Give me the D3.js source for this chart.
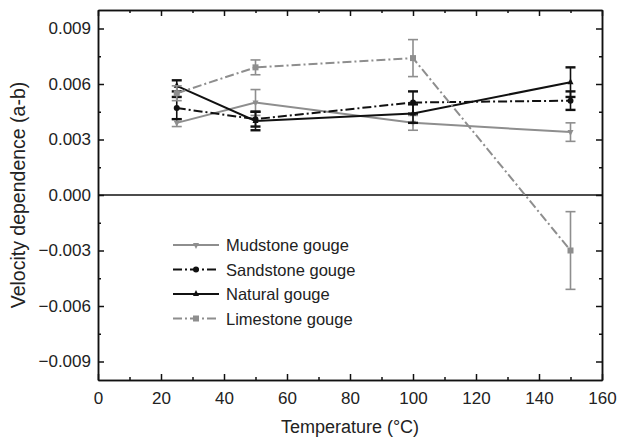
<!DOCTYPE html>
<meta charset="utf-8">
<script src="https://d3js.org/d3.v7.min.js"></script>
<style>
  body { margin: 0; background: #fff; }
  text { font-family: "Liberation Sans", Arial, sans-serif; }
</style>
<div id="my_dataviz"></div>
<script>
    // data
    var temps = [25, 50, 100, 150];

    var mudstone = [0.0039, 0.0050, 0.0039, 0.0034];
    var mudstoneErr = [0.0002, 0.0007, 0.0004, 0.0005];

    var sandstone = [0.0047, 0.0041, 0.0050, 0.0051];
    var sandstoneErr = [0.0006, 0.0004, 0.0006, 0.0005];

    var natural = [0.0059, 0.0040, 0.0044, 0.0061];
    var naturalErr = [0.0003, 0.0005, 0.0005, 0.0008];

    var limestone = [0.0055, 0.0069, 0.0074, -0.0030];
    var limestoneErr = [0.0004, 0.0004, 0.0010, 0.0021];

    var yTicks = [-0.009, -0.006, -0.003, 0, 0.003, 0.006, 0.009];
    var xTicks = [0, 20, 40, 60, 80, 100, 120, 140, 160];

    var margin = {top: 10, right: 16, bottom: 58, left: 98},
        width = 618 - margin.left - margin.right,
        height = 438 - margin.top - margin.bottom;

    var svg = d3.select("#my_dataviz")
        .append("svg")
        .attr("width", 618)
        .attr("height", 438)
        .append("g")
        .attr("transform", "translate(" + margin.left + "," + margin.top + ")");

    var x = d3.scaleLinear().domain([0, 160]).range([0, width]);
    var y = d3.scaleLinear().domain([-0.010, 0.010]).range([height, 0]);

    var gray = "#8e8e8e", black = "#111";

    var series = [
        {name: "Mudstone gouge", vals: mudstone, err: mudstoneErr, color: gray, dash: null, marker: "down"},
        {name: "Sandstone gouge", vals: sandstone, err: sandstoneErr, color: black, dash: "9,3,2,3", marker: "circle"},
        {name: "Natural gouge", vals: natural, err: naturalErr, color: black, dash: null, marker: "up"},
        {name: "Limestone gouge", vals: limestone, err: limestoneErr, color: gray, dash: "9,3,2,3", marker: "square"}
    ];

    // zero line
    svg.append("line")
        .attr("x1", 0).attr("x2", width)
        .attr("y1", y(0)).attr("y2", y(0))
        .attr("stroke", black).attr("stroke-width", 1.5);

    // axes, ticks inside, mirrored
    function styleAxis(g) {
        g.select(".domain").attr("stroke", black).attr("stroke-width", 1.5);
        g.selectAll(".tick line").attr("stroke", black).attr("stroke-width", 1.5);
        g.selectAll("text").attr("font-size", 17).attr("fill", "#222");
    }

    var xMinor = d3.range(10, 160, 20);
    var yMinor = d3.range(-0.0075, 0.0076, 0.003);

    svg.append("g")
        .attr("transform", "translate(0," + height + ")")
        .call(d3.axisBottom(x).tickValues(xTicks).tickSizeInner(-6).tickSizeOuter(0).tickPadding(12))
        .call(styleAxis);
    svg.append("g")
        .attr("transform", "translate(0," + height + ")")
        .call(d3.axisBottom(x).tickValues(xMinor).tickSizeInner(-3).tickSizeOuter(0).tickFormat(""))
        .call(styleAxis);
    svg.append("g")
        .call(d3.axisTop(x).tickValues(xTicks).tickSizeInner(-6).tickSizeOuter(0).tickFormat(""))
        .call(styleAxis);
    svg.append("g")
        .call(d3.axisTop(x).tickValues(xMinor).tickSizeInner(-3).tickSizeOuter(0).tickFormat(""))
        .call(styleAxis);

    svg.append("g")
        .call(d3.axisLeft(y).tickValues(yTicks).tickSizeInner(-6).tickSizeOuter(0).tickPadding(7).tickFormat(d3.format(".3f")))
        .call(styleAxis);
    svg.append("g")
        .call(d3.axisLeft(y).tickValues(yMinor).tickSizeInner(-3).tickSizeOuter(0).tickFormat(""))
        .call(styleAxis);
    svg.append("g")
        .attr("transform", "translate(" + width + ",0)")
        .call(d3.axisRight(y).tickValues(yTicks).tickSizeInner(-6).tickSizeOuter(0).tickFormat(""))
        .call(styleAxis);
    svg.append("g")
        .attr("transform", "translate(" + width + ",0)")
        .call(d3.axisRight(y).tickValues(yMinor).tickSizeInner(-3).tickSizeOuter(0).tickFormat(""))
        .call(styleAxis);

    // axis titles
    svg.append("text")
        .attr("x", width / 2).attr("y", height + 53)
        .attr("text-anchor", "middle")
        .attr("font-size", 18).attr("fill", "#222")
        .text("Temperature (\u00B0C)");
    svg.append("text")
        .attr("transform", "rotate(-90)")
        .attr("x", -height / 2).attr("y", -73)
        .attr("text-anchor", "middle")
        .attr("font-size", 19.5).attr("fill", "#222")
        .text("Velocity dependence (a-b)");

    function marker(g, type, cx, cy, color) {
        var s = 3;
        if (type === "circle") {
            g.append("circle").attr("cx", cx).attr("cy", cy).attr("r", s).attr("fill", color);
        } else if (type === "square") {
            g.append("rect").attr("x", cx - s).attr("y", cy - s).attr("width", 2 * s).attr("height", 2 * s).attr("fill", color);
        } else if (type === "up") {
            g.append("path").attr("d", "M" + cx + "," + (cy - s - 1) + "L" + (cx + s) + "," + (cy + s - 1) + "L" + (cx - s) + "," + (cy + s - 1) + "Z").attr("fill", color);
        } else {
            g.append("path").attr("d", "M" + cx + "," + (cy + s + 1) + "L" + (cx + s) + "," + (cy - s + 1) + "L" + (cx - s) + "," + (cy - s + 1) + "Z").attr("fill", color);
        }
    }

    var line = d3.line()
        .x(function(d) { return x(d[0]); })
        .y(function(d) { return y(d[1]); });

    series.forEach(function(s) {
        var g = svg.append("g");
        var pts = temps.map(function(t, i) { return [t, s.vals[i]]; });
        g.append("path")
            .datum(pts)
            .attr("d", line)
            .attr("fill", "none")
            .attr("stroke", s.color)
            .attr("stroke-width", 2)
            .attr("stroke-dasharray", s.dash);
        temps.forEach(function(t, i) {
            var cx = x(t), y1 = y(s.vals[i] + s.err[i]), y2 = y(s.vals[i] - s.err[i]);
            var cw = s.color === black ? 2.4 : 1.6;
            g.append("line").attr("x1", cx).attr("x2", cx).attr("y1", y1).attr("y2", y2)
                .attr("stroke", s.color).attr("stroke-width", 1.6);
            [y1, y2].forEach(function(yy) {
                g.append("line").attr("x1", cx - 5).attr("x2", cx + 5).attr("y1", yy).attr("y2", yy)
                    .attr("stroke", s.color).attr("stroke-width", cw);
            });
            marker(g, s.marker, cx, y(s.vals[i]), s.color);
        });
    });

    // legend
    var legend = svg.append("g").attr("transform", "translate(75,235)");
    series.forEach(function(s, i) {
        var row = legend.append("g").attr("transform", "translate(0," + (i * 24.5) + ")");
        row.append("line").attr("x1", 0).attr("x2", 46).attr("y1", 0).attr("y2", 0)
            .attr("stroke", s.color).attr("stroke-width", 2).attr("stroke-dasharray", s.dash);
        marker(row, s.marker, 23, 0, s.color);
        row.append("text").attr("x", 53).attr("y", 6)
            .attr("font-size", 16.5).attr("fill", "#222")
            .text(s.name);
    });
</script>
